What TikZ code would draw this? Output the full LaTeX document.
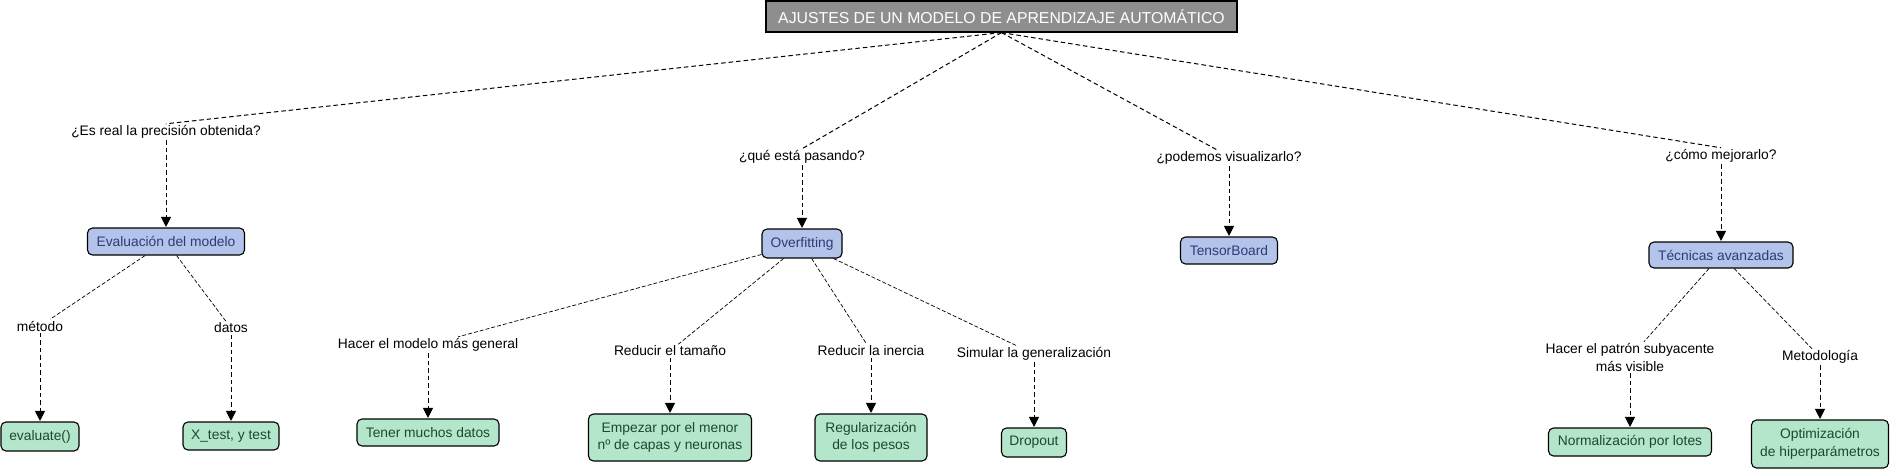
\documentclass[tikz,border=0pt]{standalone}
\usepackage{fontspec}
\setmainfont{Liberation Sans}
\usetikzlibrary{arrows.meta}
\definecolor{bluefill}{HTML}{B3C3EA}
\definecolor{bluetext}{HTML}{2B3C78}
\definecolor{greenfill}{HTML}{B4E6CC}
\definecolor{greentext}{HTML}{1B4A2B}
\definecolor{titlefill}{HTML}{8E8E8E}
\tikzset{
  base/.style={font=\fontsize{13.8pt}{17.5pt}\selectfont, align=center, inner sep=0pt},
  concept/.style={base, draw=black, line width=1.1pt, rounded corners=5pt},
  bluebox/.style={concept, fill=bluefill, text=bluetext},
  greenbox/.style={concept, fill=greenfill, text=greentext},
  titlebox/.style={base, font=\fontsize{15.8pt}{19pt}\selectfont, draw=black, line width=1.2pt, fill=titlefill, text=white},
  lab/.style={base, inner sep=1.5pt, text=black},
  thinlink/.style={draw=black, line width=0.7pt, dash pattern=on 4pt off 2pt},
  thicklink/.style={draw=black, line width=1pt, dash pattern=on 4.5pt off 3pt},
  arrowlink/.style={draw=black, line width=0.9pt, dash pattern=on 4.5pt off 3pt, -{Triangle[width=10pt,length=10pt]}, shorten >=0.5pt}
}
\begin{document}
\begin{tikzpicture}[x=1pt,y=-1pt]
\useasboundingbox (0,0) rectangle (1892,469);

% title
\node[titlebox, minimum width=471pt, minimum height=31pt] (title) at (1001.5,16.5) {AJUSTES DE UN MODELO DE APRENDIZAJE AUTOMÁTICO};

% level 1 labels
\node[lab] (q1) at (166,132) {¿Es real la precisión obtenida?};
\node[lab] (q2) at (802,157) {¿qué está pasando?};
\node[lab] (q3) at (1229,158) {¿podemos visualizarlo?};
\node[lab] (q4) at (1721,156) {¿cómo mejorarlo?};

% level 1 boxes
\node[bluebox, minimum width=157pt, minimum height=27pt] (eval) at (166,241.5) {Evaluación del modelo};
\node[bluebox, minimum width=80pt, minimum height=29pt] (over) at (802,243.5) {Overfitting};
\node[bluebox, minimum width=97pt, minimum height=27pt] (tensor) at (1229,250.5) {TensorBoard};
\node[bluebox, minimum width=144pt, minimum height=26pt] (tec) at (1721,255) {Técnicas avanzadas};

% level 2 labels
\node[lab] (metodo) at (40,326) {método};
\node[lab] (datos) at (231,328) {datos};
\node[lab] (hacer) at (428,345) {Hacer el modelo más general};
\node[lab] (reducir) at (670,351) {Reducir el tamaño};
\node[lab] (inercia) at (871,351) {Reducir la inercia};
\node[lab] (simular) at (1034,354) {Simular la generalización};
\node[lab] (patron) at (1630,357.5) {Hacer el patrón subyacente\\más visible};
\node[lab] (metod) at (1820,357) {Metodología};

% level 2 boxes
\node[greenbox, minimum width=78pt, minimum height=29pt] (evaluate) at (40,436.5) {evaluate()};
\node[greenbox, minimum width=96pt, minimum height=28pt] (xtest) at (231,436) {X\_test, y test};
\node[greenbox, minimum width=142pt, minimum height=27pt] (tener) at (428,432.5) {Tener muchos datos};
\node[greenbox, minimum width=163pt, minimum height=47pt] (empezar) at (670,437.5) {Empezar por el menor\\nº de capas y neuronas};
\node[greenbox, minimum width=112pt, minimum height=47pt] (regul) at (871,437.5) {Regularización\\de los pesos};
\node[greenbox, minimum width=65pt, minimum height=29pt] (dropout) at (1034,442.5) {Dropout};
\node[greenbox, minimum width=163pt, minimum height=28pt] (normal) at (1630,442) {Normalización por lotes};
\node[greenbox, minimum width=137pt, minimum height=48pt] (optim) at (1820,444) {Optimización\\de hiperparámetros};

% title links
\draw[thicklink] (title.south) -- (q1.north);
\draw[thicklink] (title.south) -- (q2.north);
\draw[thicklink] (title.south) -- ([xshift=-12pt]q3.north);
\draw[thicklink] (title.south) -- (q4.north);

% label -> box arrows
\draw[arrowlink] (q1) -- (eval);
\draw[arrowlink] (q2) -- (over);
\draw[arrowlink] (q3) -- (tensor);
\draw[arrowlink] (q4) -- (tec);
\draw[arrowlink] (metodo) -- (evaluate);
\draw[arrowlink] (datos) -- (xtest);
\draw[arrowlink] (hacer) -- (tener);
\draw[arrowlink] (reducir) -- (empezar);
\draw[arrowlink] (inercia) -- (regul);
\draw[arrowlink] (simular) -- (dropout);
\draw[arrowlink] (patron) -- (normal);
\draw[arrowlink] (metod) -- (optim);

% box -> label links
\draw[thinlink] (eval) -- (metodo);
\draw[thinlink] (eval) -- (datos);
\draw[thinlink] (over) -- (hacer);
\draw[thinlink] (over) -- (reducir);
\draw[thinlink] (over) -- (inercia);
\draw[thinlink] (over) -- (simular);
\draw[thinlink] (tec) -- (patron);
\draw[thinlink] (tec) -- (metod);
\end{tikzpicture}
\end{document}
